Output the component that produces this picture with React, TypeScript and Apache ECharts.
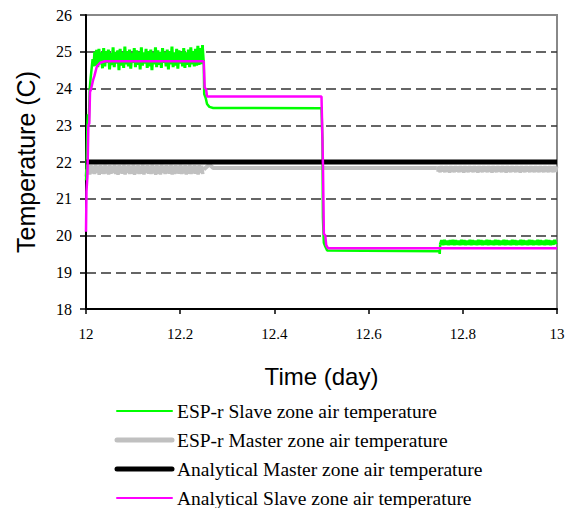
import React, { useEffect, useRef } from "react";
import * as echarts from "echarts";

const xTicks = [12, 12.2, 12.4, 12.6, 12.8, 13];
const yTicks = [18, 19, 20, 21, 22, 23, 24, 25, 26];

const seriesNames = [
  "ESP-r Slave zone air temperature",
  "ESP-r Master zone air temperature",
  "Analytical Master zone air temperature",
  "Analytical Slave zone air temperature",
];
const seriesColors = ["#00ff00", "#c0c0c0", "#000000", "#ff00ff"];
const legendWidths = [2, 5, 5, 2];

// ESP-r slave zone: initial rise
const espSlaveRise: [number, number][] = [
  [12.0, 21.5], [12.001, 21.7], [12.002, 22.4], [12.003, 23.0], [12.004, 23.3],
  [12.006, 23.1], [12.008, 24.0], [12.01, 24.3], [12.012, 24.55], [12.014, 24.8],
  [12.016, 24.6], [12.018, 25.0], [12.02, 24.62],
];
// ESP-r slave zone: fluctuation 12.02 - 12.25 (sampled every 0.0025 day)
const espSlaveNoiseAStart = 12.02;
const espSlaveNoiseAStep = 0.0025;
const espSlaveNoiseA = [
  24.62, 25.05, 24.58, 25.08, 24.66, 24.98, 24.55, 25.1, 24.6, 25.02,
  24.7, 25.06, 24.52, 24.96, 24.64, 25.12, 24.58, 25.0, 24.68, 25.04,
  24.5, 25.08, 24.62, 24.98, 24.56, 25.14, 24.66, 25.02, 24.6, 25.06,
  24.54, 24.96, 24.7, 25.1, 24.58, 25.04, 24.64, 25.0, 24.52, 25.12,
  24.62, 24.98, 24.68, 25.08, 24.56, 25.02, 24.6, 25.06, 24.5, 24.98,
  24.66, 25.12, 24.58, 25.04, 24.64, 25.0, 24.56, 25.1, 24.7, 24.98,
  24.6, 25.06, 24.52, 25.02, 24.66, 25.14, 24.58, 24.98, 24.62, 25.08,
  24.54, 25.04, 24.68, 25.0, 24.6, 25.1, 24.56, 24.98, 24.64, 25.06,
  24.58, 25.12, 24.66, 25.02, 24.6, 25.08, 24.62, 25.16, 24.64, 25.1,
  24.66, 25.18,
];
// ESP-r slave zone: steps
const espSlaveMid: [number, number][] = [
  [12.2475, 25.18], [12.25, 24.7], [12.251, 23.85], [12.254, 23.75], [12.257, 23.58],
  [12.262, 23.5], [12.27, 23.47], [12.5, 23.46], [12.502, 22.6], [12.503, 20.5],
  [12.505, 19.8], [12.508, 19.7], [12.512, 19.59], [12.75, 19.57], [12.751, 19.5],
  [12.752, 19.75],
];
// ESP-r slave zone: fluctuation 12.752 - 13 (sampled every 0.003 day)
const espSlaveNoiseBStart = 12.752;
const espSlaveNoiseBStep = 0.003;
const espSlaveNoiseB = [
  19.75, 19.87, 19.74, 19.88, 19.75, 19.86, 19.74, 19.87, 19.75, 19.88,
  19.74, 19.87, 19.75, 19.86, 19.74, 19.88, 19.75, 19.87, 19.74, 19.86,
  19.75, 19.88, 19.74, 19.87, 19.75, 19.86, 19.74, 19.88, 19.75, 19.87,
  19.74, 19.86, 19.75, 19.88, 19.74, 19.87, 19.75, 19.86, 19.74, 19.88,
  19.75, 19.87, 19.74, 19.86, 19.75, 19.88, 19.74, 19.87, 19.75, 19.86,
  19.74, 19.88, 19.75, 19.87, 19.74, 19.86, 19.75, 19.88, 19.74, 19.87,
  19.75, 19.86, 19.74, 19.88, 19.75, 19.87, 19.74, 19.86, 19.75, 19.88,
  19.74, 19.87, 19.75, 19.86, 19.74, 19.88, 19.75, 19.87, 19.74, 19.86,
  19.75, 19.88, 19.76,
];

// ESP-r master zone
const espMasterStart: [number, number][] = [[12.0, 21.6], [12.002, 21.8]];
const espMasterNoiseAStart = 12.003;
const espMasterNoiseAStep = 0.0025;
const espMasterNoiseA = [
  21.68, 21.9, 21.66, 21.91, 21.69, 21.9, 21.67, 21.92, 21.7, 21.9,
  21.65, 21.91, 21.68, 21.9, 21.67, 21.92, 21.69, 21.9, 21.66, 21.91,
  21.68, 21.9, 21.7, 21.92, 21.67, 21.9, 21.65, 21.91, 21.69, 21.9,
  21.68, 21.92, 21.66, 21.9, 21.7, 21.91, 21.67, 21.9, 21.68, 21.92,
  21.65, 21.9, 21.69, 21.91, 21.67, 21.9, 21.68, 21.92, 21.66, 21.9,
  21.7, 21.91, 21.68, 21.9, 21.67, 21.92, 21.69, 21.9, 21.65, 21.91,
  21.68, 21.9, 21.66, 21.92, 21.7, 21.9, 21.67, 21.91, 21.69, 21.9,
  21.68, 21.92, 21.66, 21.9, 21.67, 21.91, 21.69, 21.9, 21.68, 21.92,
  21.67, 21.9, 21.69, 21.91, 21.66, 21.9, 21.68, 21.92, 21.67, 21.9,
  21.69, 21.91, 21.68, 21.9, 21.66, 21.91, 21.7, 21.9, 21.67,
];
const espMasterMid: [number, number][] = [
  [12.25, 21.8], [12.262, 21.93], [12.27, 21.84], [12.745, 21.84],
];
const espMasterNoiseBStart = 12.747;
const espMasterNoiseBStep = 0.0025;
const espMasterNoiseB = [
  21.73, 21.88, 21.72, 21.89, 21.74, 21.88, 21.72, 21.89, 21.73, 21.88,
  21.71, 21.89, 21.73, 21.88, 21.72, 21.89, 21.74, 21.88, 21.72, 21.89,
  21.73, 21.88, 21.71, 21.89, 21.73, 21.88, 21.72, 21.89, 21.74, 21.88,
  21.72, 21.89, 21.73, 21.88, 21.71, 21.89, 21.73, 21.88, 21.72, 21.89,
  21.74, 21.88, 21.72, 21.89, 21.73, 21.88, 21.71, 21.89, 21.73, 21.88,
  21.72, 21.89, 21.74, 21.88, 21.72, 21.89, 21.73, 21.88, 21.71, 21.89,
  21.73, 21.88, 21.72, 21.89, 21.74, 21.88, 21.72, 21.89, 21.73, 21.88,
  21.71, 21.89, 21.73, 21.88, 21.72, 21.89, 21.74, 21.88, 21.72, 21.89,
  21.73, 21.88, 21.72, 21.89, 21.73, 21.88, 21.72, 21.89, 21.73, 21.88,
  21.72, 21.89, 21.73, 21.88, 21.72, 21.89, 21.73, 21.88, 21.72, 21.89,
  21.73, 21.88,
];

// Analytical master zone
const anaMaster: [number, number][] = [[12.0, 22.0], [13.0, 22.0]];

// Analytical slave zone
const anaSlave: [number, number][] = [
  [12.0, 20.1], [12.001, 21.2], [12.003, 21.6], [12.005, 23.0], [12.007, 23.05],
  [12.0085, 23.9], [12.011, 24.0], [12.0155, 24.25], [12.018, 24.35], [12.023, 24.6],
  [12.03, 24.7], [12.04, 24.74], [12.25, 24.74], [12.252, 24.02], [12.255, 23.98],
  [12.257, 23.78], [12.5, 23.78], [12.503, 22.0], [12.505, 20.05], [12.508, 20.0],
  [12.51, 19.74], [12.514, 19.65], [13.0, 19.65],
];

const expand = (start: number, step: number, vals: number[]): [number, number][] =>
  vals.map((v, i) => [start + i * step, v]);

const SERIF = "Liberation Serif";
const SANS = "Liberation Sans";

const lineSeries = (name: string, data: [number, number][], color: string, width: number, z: number) => ({
  name,
  type: "line",
  data,
  symbol: "none",
  showSymbol: false,
  lineStyle: { color, width, join: "bevel" },
  itemStyle: { color },
  z,
});

export default function App() {
  const ref = useRef<HTMLDivElement>(null);
  useEffect(() => {
    if (!ref.current) return;
    const chart = echarts.init(ref.current, undefined, { renderer: "svg" });
    const legendRows = [411, 440, 469, 498];
    const legendGraphics: any[] = [];
    seriesNames.forEach((name, i) => {
      legendGraphics.push({
        type: "line",
        shape: { x1: 117, y1: legendRows[i], x2: 172, y2: legendRows[i] },
        style: { stroke: seriesColors[i], lineWidth: legendWidths[i], lineCap: "round" },
      });
      legendGraphics.push({
        type: "text",
        x: 177,
        y: legendRows[i],
        style: {
          text: name,
          fill: "#000",
          fontFamily: SERIF,
          fontSize: 19.5,
          verticalAlign: "middle",
        },
      });
    });
    chart.setOption({
      animation: false,
      backgroundColor: "#fff",
      textStyle: { fontFamily: SERIF },
      grid: {
        left: 86,
        right: 17,
        top: 15,
        bottom: 199,
        show: true,
        borderColor: "#888",
        borderWidth: 2,
        backgroundColor: "transparent",
      },
      graphic: legendGraphics,
      xAxis: {
        type: "value",
        min: 12,
        max: 13,
        interval: 0.2,
        name: "Time (day)",
        nameLocation: "middle",
        nameGap: 55,
        nameTextStyle: { fontFamily: SANS, fontSize: 24, color: "#000" },
        axisLine: { show: true, onZero: false, lineStyle: { color: "#000", width: 2 } },
        axisTick: { show: true, length: 5, lineStyle: { color: "#000", width: 1.5 } },
        axisLabel: {
          margin: 17,
          color: "#000",
          formatter: (v: number) => `{s|${+v.toFixed(1)}}`,
          rich: { s: { fontFamily: SERIF, fontSize: 15, color: "#000" } },
        },
        splitLine: { show: false },
      },
      yAxis: {
        type: "value",
        min: 18,
        max: 26,
        interval: 1,
        name: "Temperature (C)",
        nameLocation: "middle",
        nameGap: 48,
        nameTextStyle: { fontFamily: SANS, fontSize: 25, color: "#000" },
        axisLine: { show: true, onZero: false, lineStyle: { color: "#000", width: 2 } },
        axisTick: { show: true, length: 6, lineStyle: { color: "#000", width: 1.5 } },
        axisLabel: {
          margin: 14,
          color: "#000",
          formatter: (v: number) => `{s|${v}}`,
          rich: { s: { fontFamily: SERIF, fontSize: 16, color: "#000" } },
        },
        splitLine: {
          show: true,
          showMinLine: false,
          showMaxLine: false,
          lineStyle: { color: "#333", width: 1.5, type: [10, 5] },
        },
      },
      series: [
        lineSeries(seriesNames[1], espMasterStart.concat(expand(espMasterNoiseAStart, espMasterNoiseAStep, espMasterNoiseA)), seriesColors[1], 3.5, 2),
        lineSeries(seriesNames[1], espMasterMid, seriesColors[1], 4, 2),
        lineSeries(seriesNames[1], expand(espMasterNoiseBStart, espMasterNoiseBStep, espMasterNoiseB), seriesColors[1], 3.5, 2),
        lineSeries(seriesNames[0], espSlaveRise, seriesColors[0], 2.5, 3),
        lineSeries(seriesNames[0], expand(espSlaveNoiseAStart, espSlaveNoiseAStep, espSlaveNoiseA), seriesColors[0], 3, 3),
        lineSeries(seriesNames[0], espSlaveMid, seriesColors[0], 2.5, 3),
        lineSeries(seriesNames[0], expand(espSlaveNoiseBStart, espSlaveNoiseBStep, espSlaveNoiseB), seriesColors[0], 3, 3),
        lineSeries(seriesNames[2], anaMaster, seriesColors[2], 5, 4),
        lineSeries(seriesNames[3], anaSlave, seriesColors[3], 2.5, 5),
      ],
    });
    return () => chart.dispose();
  }, []);
  return (
    <div
      ref={ref}
      style={{ position: "fixed", left: 0, top: 0, width: 574, height: 508 }}
    />
  );
}
